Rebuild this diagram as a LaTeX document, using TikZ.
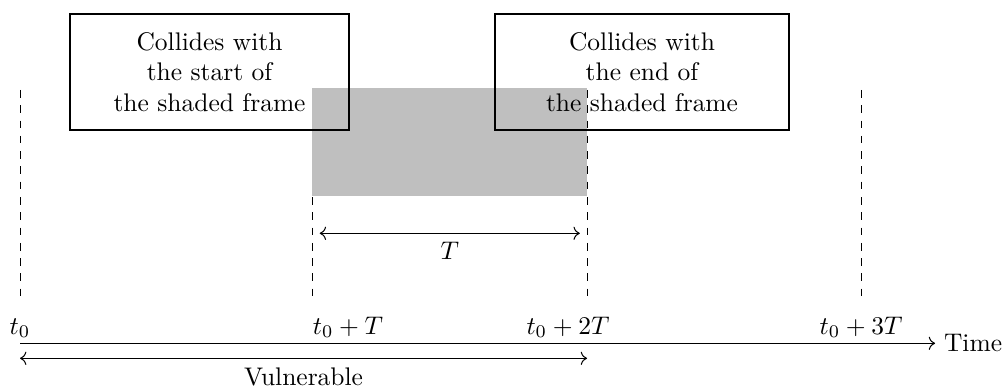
\documentclass[tikz,border=0pt]{standalone}
\usepackage{amsmath}
\usetikzlibrary{arrows.meta, positioning}

\begin{document}
\begin{tikzpicture}[
    frame/.style={rectangle, draw, thick, align=center, minimum height=1.6cm},
    tick/.style={dashed},
    arr/.style={<->},
    lbl/.style={anchor=base},
]
\useasboundingbox (0,0) rectangle (13.834,-5.352);
% points on the time axis
\coordinate (x0) at (0.276,-4.735);
\coordinate (x1) at (4.310,-4.735);
\coordinate (x2) at (8.097,-4.735);
\coordinate (x3) at (11.876,-4.735);
\coordinate (xend) at (12.897,-4.735);
\coordinate (top) at (0,-1.241);
\coordinate (bot) at (0,-4.110);
% dashed markers
\draw[tick] (x0 |- top) -- (x0 |- bot);
\draw[tick] (x1 |- top) -- (x1 |- bot);
\draw[tick] (x2 |- top) -- (x2 |- bot);
\draw[tick] (x3 |- top) -- (x3 |- bot);
% shaded frame
\node[fill=gray!50, inner sep=0, minimum width=3.789cm, minimum height=1.503cm,
      anchor=north west] (shaded) at (4.300,-1.2) {};
\node[frame, minimum width=3.848cm] (start) at (2.890,-0.993)
    {Collides with\\the start of\\the shaded frame};
\node[frame, minimum width=4.055cm] (end) at (8.855,-0.993)
    {Collides with\\the end of\\the shaded frame};
% frame length
\coordinate (ta) at (4.310,-3.218);
\coordinate (tb) at (8.097,-3.218);
\draw[arr, shorten >=0.1cm, shorten <=0.1cm] (ta) -- node[below] (len) {$T$} (tb);
% axis and labels
\draw[->] (x0) -- (xend) node[right] (time) {Time};
\node[lbl] (l0) at (0.276,-4.607) {$t_0$};
\node[lbl] (l1) at (4.8,-4.607) {$t_0 + T$};
\node[lbl] (l2) at (7.834,-4.607) {$t_0 + 2T$};
\node[lbl] (l3) at (11.876,-4.607) {$t_0 + 3T$};
% vulnerable period
\coordinate (va) at (0.276,-4.942);
\coordinate (vb) at (8.097,-4.942);
\draw[arr] (va) -- node[below] (vul) {Vulnerable} (vb);
\end{tikzpicture}
\end{document}
